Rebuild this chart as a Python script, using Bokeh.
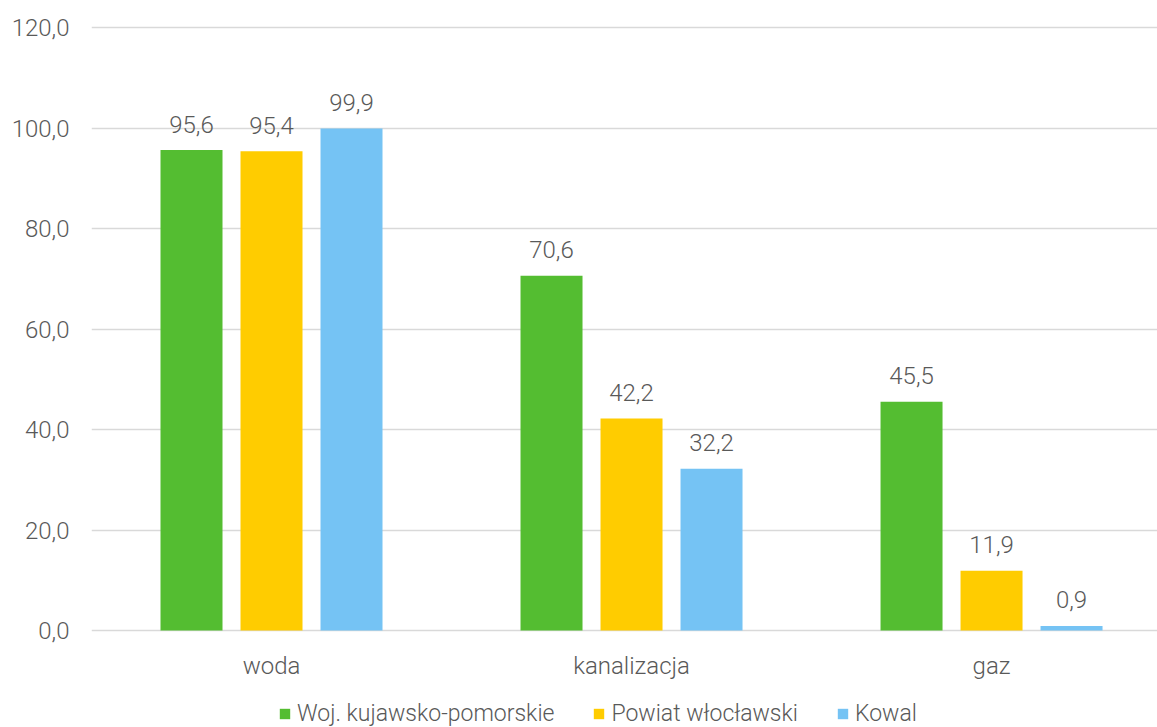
from bokeh.plotting import figure
from bokeh.models import ColumnDataSource, Legend, LegendItem, FixedTicker, Range1d
from bokeh.core.properties import value
from bokeh.embed import file_html
from bokeh.resources import INLINE

categories = ["woda", "kanalizacja", "gaz"]
series_names = ["Woj. kujawsko-pomorskie", "Powiat włocławski", "Kowal"]
woj = [95.6, 70.6, 45.5]
powiat = [95.4, 42.2, 11.9]
kowal = [99.9, 32.2, 0.9]
y_ticks = [0, 20, 40, 60, 80, 100, 120]

colors = ["#54BD31", "#FFCC00", "#75C3F4"]
FONT = "Roboto Light"
TXT = "#595959"

W, H = 1157, 727
LEFT, TOP = 91, 25
PX_PER_UNIT = 603 / 120          # 120 units span 603 px
y_end = 120.4
y_start = y_end - (H - TOP) / PX_PER_UNIT

p = figure(width=W, height=H, output_backend="svg", toolbar_location=None,
           x_range=Range1d(-0.5, 2.461), y_range=Range1d(y_start, y_end))
p.min_border_left = LEFT
p.min_border_right = 0
p.min_border_top = TOP
p.min_border_bottom = 0
p.outline_line_color = None
p.background_fill_color = "white"
p.border_fill_color = "white"

series = [woj, powiat, kowal]
step = 80 / 360
bw = 62 / 360
renderers = []
for j, (vals, col) in enumerate(zip(series, colors)):
    xs = [i + (j - 1) * step for i in range(len(categories))]
    src = ColumnDataSource(dict(x=xs, top=vals,
                                lbl=[f"{v:.1f}".replace(".", ",") for v in vals]))
    r = p.vbar(x="x", top="top", bottom=0, width=bw, source=src, fill_color=col, line_color=None)
    renderers.append(r)
    p.text(x="x", y="top", text="lbl", source=src, text_align="center",
           text_baseline="alphabetic", y_offset=-26, text_font=value(FONT),
           text_font_size="24px", text_color=TXT)

# category labels under the zero line
cat_src = ColumnDataSource(dict(x=list(range(len(categories))), y=[0] * len(categories), t=categories))
p.text(x="x", y="y", text="t", source=cat_src, text_align="center",
       text_baseline="alphabetic", y_offset=35, text_font=value(FONT),
       text_font_size="24px", text_color=TXT)

p.xaxis.visible = False

p.yaxis.ticker = FixedTicker(ticks=y_ticks)
p.yaxis.major_label_overrides = {t: f"{t:.1f}".replace(".", ",") for t in y_ticks}
p.yaxis.axis_line_color = None
p.yaxis.major_tick_line_color = None
p.yaxis.major_tick_out = 0
p.yaxis.minor_tick_line_color = None
p.yaxis.major_label_standoff = 22
p.yaxis.major_label_text_font = FONT
p.yaxis.major_label_text_font_size = "24px"
p.yaxis.major_label_text_color = TXT

p.xgrid.grid_line_color = None
p.ygrid.grid_line_color = "#D9D9D9"
p.ygrid.grid_line_width = 1.5

legend = Legend(items=[LegendItem(label=n, renderers=[r]) for n, r in zip(series_names, renderers)],
                orientation="horizontal", location=(187, 0))
legend.border_line_color = None
legend.background_fill_alpha = 0
legend.label_text_font = FONT
legend.label_text_font_size = "23px"
legend.label_text_color = TXT
legend.glyph_width = 13
legend.glyph_height = 13
legend.label_standoff = 6
legend.spacing = 38
legend.padding = 0
legend.margin = 0
p.add_layout(legend, "center")

open("out.html", "w").write(file_html(p, INLINE))
